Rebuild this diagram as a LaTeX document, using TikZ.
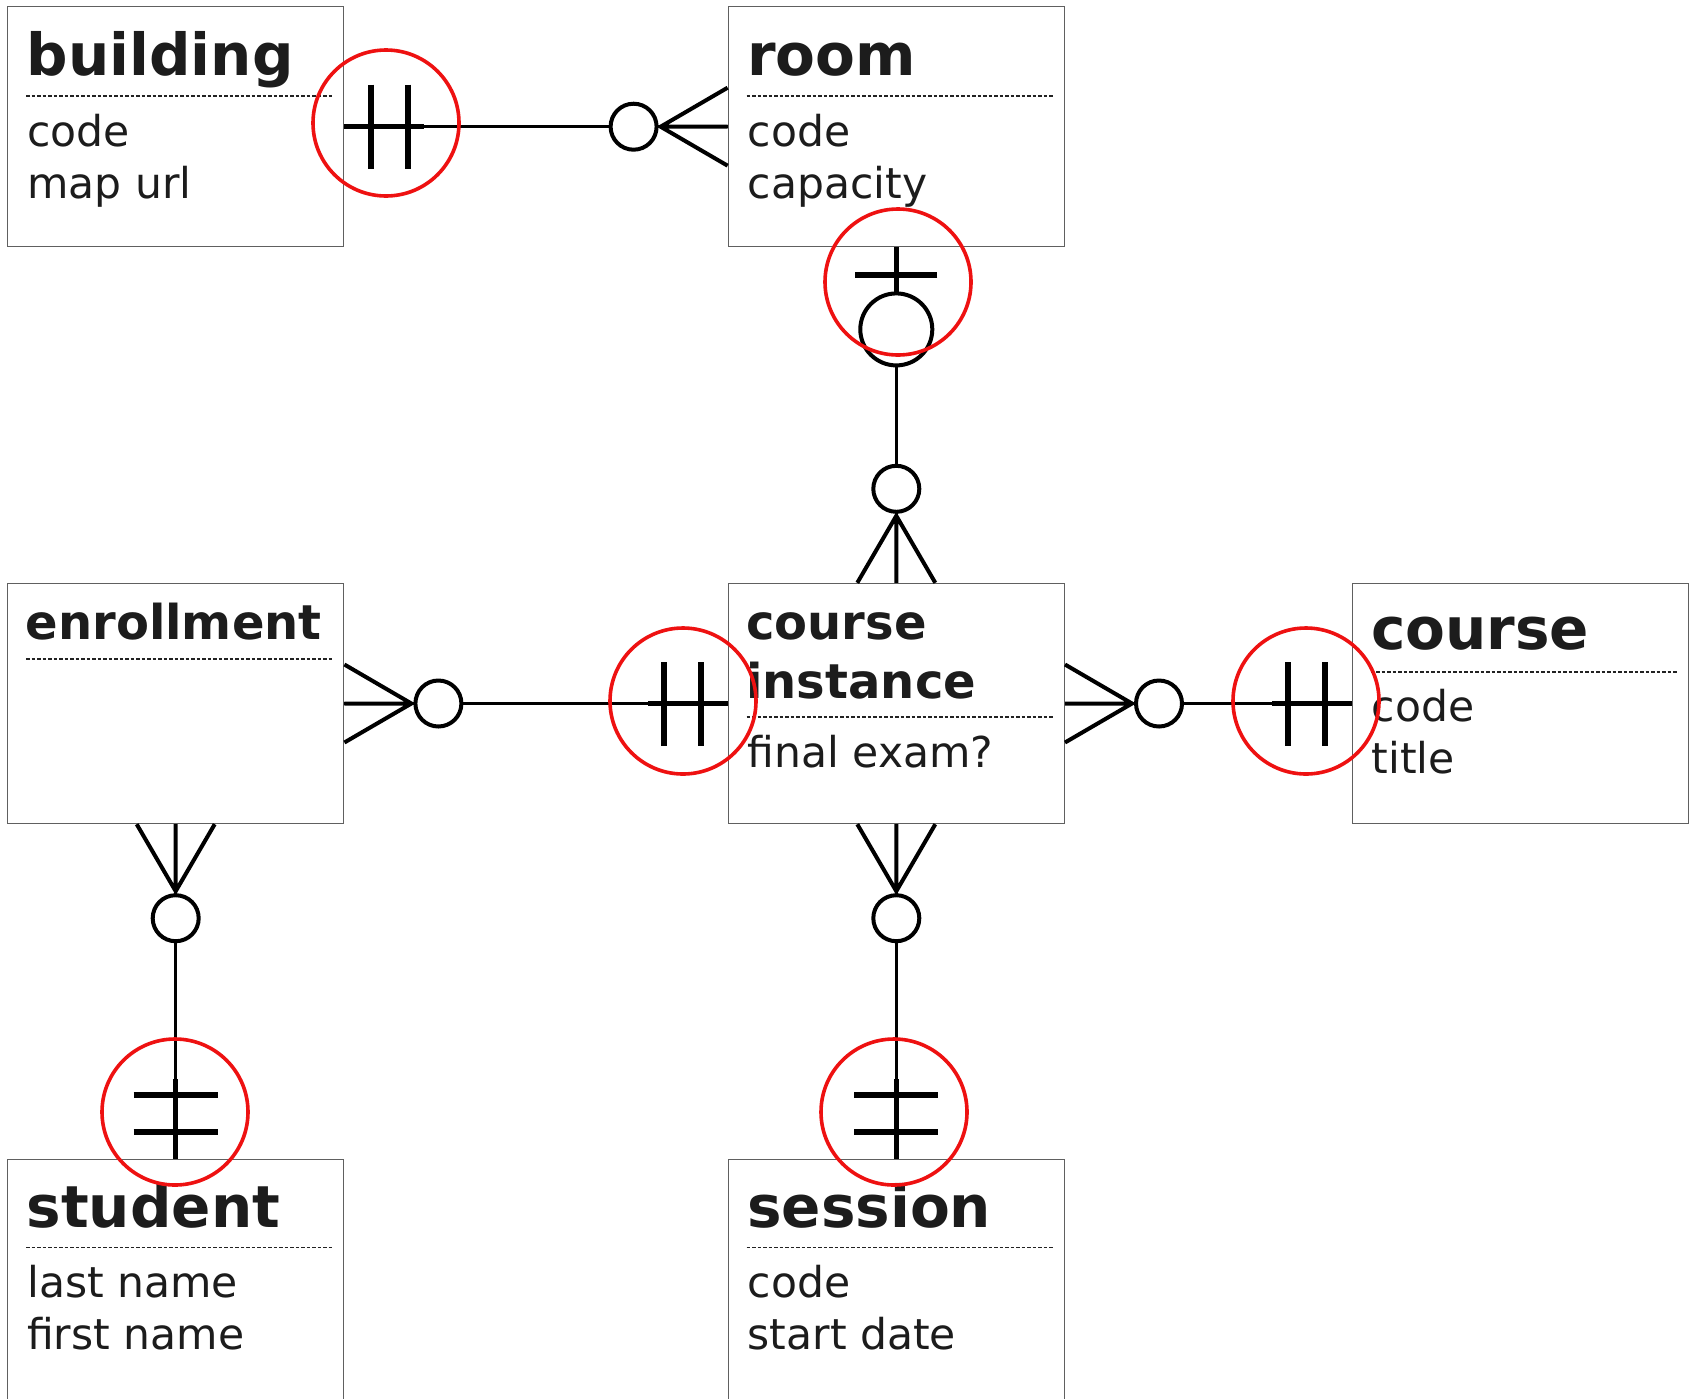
\documentclass[tikz,border=0pt]{standalone}
\usepackage{fontspec}
\setmainfont{DejaVu Sans}
\usetikzlibrary{calc}
\definecolor{ink}{HTML}{1C1C1C}
\definecolor{boxgray}{HTML}{606060}
\definecolor{sepgray}{HTML}{222222}
\definecolor{marker}{HTML}{EE1111}
\tikzset{
  entity/.style={draw=boxgray,line width=1.4pt,minimum width=336pt,minimum height=240pt,inner sep=0pt,fill=white},
  ttl/.style={inner sep=0pt,anchor=base west,text=ink,font=\fontsize{58}{70}\selectfont\bfseries},
  ttlsmall/.style={inner sep=0pt,anchor=base west,text=ink,font=\fontsize{48}{60}\selectfont\bfseries},
  attr/.style={inner sep=0pt,anchor=base west,text=ink,font=\fontsize{42.5}{52}\selectfont},
  sepline/.style={draw=sepgray,line width=1.4pt,dash pattern=on 3.5pt off 2pt},
  conn/.style={draw=black,line width=3.4pt},
  stub/.style={draw=black,line width=4.6pt},
  barline/.style={draw=black,line width=6pt},
  crowline/.style={draw=black,line width=4pt},
  ring/.style={draw=black,line width=4pt,fill=white},
  hl/.style={draw=marker,line width=3.6pt},
  pics/mone/.style={code={
    \draw[stub] (0,0) -- (80,0);
    \draw[barline] (27,-42) -- (27,42) (64,-42) -- (64,42);
  }},
  pics/zmany/.style={code={
    \draw[crowline] (0,-39) -- (67,0) -- (0,39) (0,0) -- (67,0);
    \draw[ring] (94,0) circle[radius=23];
  }},
  pics/zone/.style={code={
    \draw[stub] (0,0) -- (46,0);
    \draw[barline] (28,-41) -- (28,41);
    \draw[ring] (82,0) circle[radius=36];
  }},
}
\begin{document}
\begin{tikzpicture}[x=1pt,y=-1pt]
\useasboundingbox[fill=white] (0,0) rectangle (1696,1398);

% entities
\node[entity] (building) at (175.7,126.7) {};
\node[entity] (room) at (896.3,126.7) {};
\node[entity] (enrollment) at (175.7,703.5) {};
\node[entity] (ci) at (896.3,703.5) {};
\node[entity] (course) at (1520.3,703.5) {};
\node[entity] (student) at (175.7,1279.3) {};
\node[entity] (session) at (896.3,1279.3) {};

% building
\node[ttl] (building-t) at ($(building.north west)+(19.5,69)$) {building};
\draw[sepline] ($(building.north west)+(19,90)$) -- ($(building.north east)+(-11,90)$);
\node[attr] (building-a1) at ($(building.north west)+(20,140)$) {code};
\node[attr] (building-a2) at ($(building.north west)+(20,192)$) {map url};

% room
\node[ttl] (room-t) at ($(room.north west)+(19.5,69)$) {room};
\draw[sepline] ($(room.north west)+(19,90)$) -- ($(room.north east)+(-11,90)$);
\node[attr] (room-a1) at ($(room.north west)+(20,140)$) {code};
\node[attr] (room-a2) at ($(room.north west)+(20,192)$) {capacity};

% enrollment
\node[ttlsmall] (enrollment-t) at ($(enrollment.north west)+(18.5,57)$) {enrollment};
\draw[sepline] ($(enrollment.north west)+(19,76)$) -- ($(enrollment.north east)+(-11,76)$);

% course instance
\node[ttlsmall] (ci-t1) at ($(ci.north west)+(18.5,57)$) {course};
\node[ttlsmall] (ci-t2) at ($(ci.north west)+(18.5,116)$) {instance};
\draw[sepline] ($(ci.north west)+(19,134)$) -- ($(ci.north east)+(-11,134)$);
\node[attr] (ci-a1) at ($(ci.north west)+(20,185)$) {final exam?};

% course
\node[ttl] (course-t) at ($(course.north west)+(19.5,67)$) {course};
\draw[sepline] ($(course.north west)+(19,89)$) -- ($(course.north east)+(-11,89)$);
\node[attr] (course-a1) at ($(course.north west)+(20,139)$) {code};
\node[attr] (course-a2) at ($(course.north west)+(20,191)$) {title};

% student
\node[ttl] (student-t) at ($(student.north west)+(19.5,68.5)$) {student};
\draw[sepline] ($(student.north west)+(19,89)$) -- ($(student.north east)+(-11,89)$);
\node[attr] (student-a1) at ($(student.north west)+(20,139)$) {last name};
\node[attr] (student-a2) at ($(student.north west)+(20,191)$) {first name};

% session
\node[ttl] (session-t) at ($(session.north west)+(19.5,68.5)$) {session};
\draw[sepline] ($(session.north west)+(19,89)$) -- ($(session.north east)+(-11,89)$);
\node[attr] (session-a1) at ($(session.north west)+(20,139)$) {code};
\node[attr] (session-a2) at ($(session.north west)+(20,191)$) {start date};

% connectors
\draw[conn] (building.east) -- (room.west);
\draw[conn] (room.south) -- (ci.north);
\draw[conn] (enrollment.east) -- (ci.west);
\draw[conn] (ci.east) -- (course.west);
\draw[conn] (enrollment.south) -- (student.north);
\draw[conn] (ci.south) -- (session.north);

% end symbols
\pic at (building.east) {mone};
\pic[rotate=180] at (room.west) {zmany};
\pic[rotate=-90] at (room.south) {zone};
\pic[rotate=90] at (ci.north) {zmany};
\pic at (enrollment.east) {zmany};
\pic[rotate=180] at (ci.west) {mone};
\pic at (ci.east) {zmany};
\pic[rotate=180] at (course.west) {mone};
\pic[rotate=-90] at (enrollment.south) {zmany};
\pic[rotate=90] at (student.north) {mone};
\pic[rotate=-90] at (ci.south) {zmany};
\pic[rotate=90] at (session.north) {mone};

% highlight circles
\coordinate (h1) at (386,123);
\coordinate (h2) at (898,282);
\coordinate (h3) at (683,701);
\coordinate (h4) at (1306,701);
\coordinate (h5) at (175,1112);
\coordinate (h6) at (894,1112);
\foreach \c in {h1,h2,h3,h4,h5,h6} \draw[hl] (\c) circle[radius=73];
\end{tikzpicture}
\end{document}
